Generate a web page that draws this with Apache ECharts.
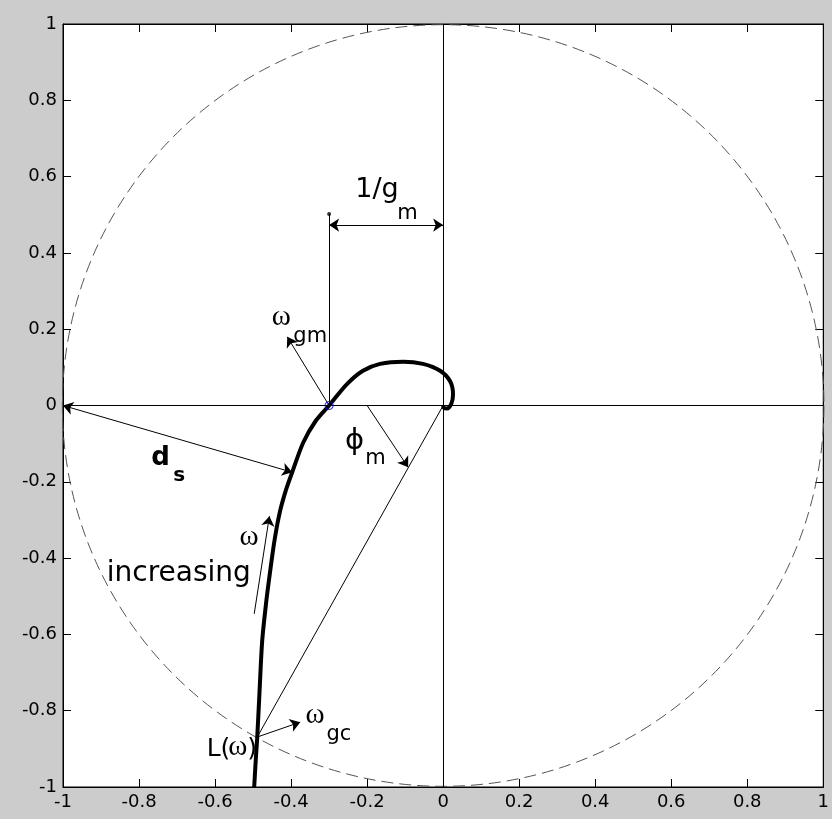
<!DOCTYPE html>
<html>
<head>
<meta charset="utf-8">
<script src="https://cdn.jsdelivr.net/npm/echarts@6/dist/echarts.min.js"></script>
<style>
html,body{margin:0;padding:0;background:#cccccc;}
#chart{width:832px;height:819px;}
</style>
</head>
<body>
<div id="chart"></div>
<script>
// ---- data ----
const xTicks = [-1, -0.8, -0.6, -0.4, -0.2, 0, 0.2, 0.4, 0.6, 0.8, 1];
const yTicks = [-1, -0.8, -0.6, -0.4, -0.2, 0, 0.2, 0.4, 0.6, 0.8, 1];

// Nyquist curve L(omega) (omega increasing upward)
const curveRe = [-0.497, -0.493, -0.489, -0.483, -0.476, -0.466, -0.455, -0.443, -0.429, -0.413, -0.397, -0.368, -0.335, -0.300, -0.253, -0.211, -0.166, -0.105, -0.053, -0.008, 0.018, 0.026, 0.022, 0.010, 0.002, 0.000];
const curveIm = [-1.000, -0.930, -0.869, -0.750, -0.617, -0.520, -0.434, -0.350, -0.277, -0.220, -0.175, -0.097, -0.040, 0.000, 0.056, 0.091, 0.109, 0.115, 0.109, 0.091, 0.064, 0.030, 0.006, -0.008, -0.006, 0.000];

// unit circle (center x, center y, radius)
const unitCircle = [[0, 0, 1]];

// key points
const gainCrossing = [-0.489, -0.869];   // omega_gc
const phaseCrossing = [-0.3, 0];          // omega_gm (-1/g_m)
const markerTop = [-0.3, 0.502];

// plain lines
const plainLines = [
  [[-1, 0], [1, 0]],
  [[0, -1], [0, 1]],
  [[0, 0], gainCrossing],
  [phaseCrossing, markerTop]
];
// double headed arrows
const doubleArrows = [
  [[-0.3, 0.473], [0, 0.473]],
  [[-1, 0], [-0.397, -0.175]]
];
// single headed arrows
const singleArrows = [
  [phaseCrossing, [-0.41, 0.18]],
  [[-0.2, 0], [-0.092, -0.162]],
  [[-0.497, -0.546], [-0.457, -0.29]],
  [gainCrossing, [-0.376, -0.83]]
];

// annotations (text, anchor in data units)
const annotations = [
  {t: '1/g', x: -0.231, y: 0.565, s: 27},
  {t: 'm', x: -0.121, y: 0.503, s: 21},
  {t: 'ω', x: -0.451, y: 0.232, s: 29, g: true},
  {t: 'gm', x: -0.394, y: 0.180, s: 21},
  {t: 'd', x: -0.768, y: -0.138, s: 26, b: true},
  {t: 's', x: -0.710, y: -0.183, s: 20, b: true},
  {t: 'ϕ', x: -0.258, y: -0.093, s: 29},
  {t: 'm', x: -0.205, y: -0.140, s: 21},
  {t: 'ω', x: -0.536, y: -0.347, s: 29, g: true},
  {t: 'increasing', x: -0.885, y: -0.442, s: 28},
  {t: 'ω', x: -0.362, y: -0.811, s: 29, g: true},
  {t: 'gc', x: -0.307, y: -0.862, s: 21},
  {t: 'L(', x: -0.622, y: -0.903, s: 25},
  {t: 'ω', x: -0.565, y: -0.897, s: 29, g: true},
  {t: ')', x: -0.515, y: -0.903, s: 25}
];

// ---- chart ----
const chart = echarts.init(document.getElementById('chart'));
const FONT = '"DejaVu Sans", Verdana, sans-serif';
const GFONT = '"Liberation Serif", "DejaVu Serif", serif';
const fmt = v => String(Math.round(v * 10) / 10);

function axisCommon(show, margin) {
  return {
    min: -1, max: 1, interval: 0.2,
    axisLine: {show: true, onZero: false, lineStyle: {color: '#000', width: 1}},
    axisTick: {show: true, inside: true, length: 8, lineStyle: {color: '#000'}},
    splitLine: {show: false},
    axisLabel: {show: show, color: '#000', fontSize: 18, fontFamily: FONT, margin: margin || 6, formatter: fmt}
  };
}

const curveData = curveRe.map((x, i) => [x, curveIm[i]]);

const option = {
  backgroundColor: '#cccccc',
  animation: false,
  grid: {left: 63, right: 8, top: 24, bottom: 32, show: true, backgroundColor: '#ffffff', borderColor: '#000', borderWidth: 1},
  xAxis: [
    Object.assign({type: 'value', position: 'bottom'}, axisCommon(true, 6)),
    Object.assign({type: 'value', position: 'top'}, axisCommon(false))
  ],
  yAxis: [
    Object.assign({type: 'value', position: 'left'}, axisCommon(true, 6)),
    Object.assign({type: 'value', position: 'right'}, axisCommon(false))
  ],
  series: [
    {
      type: 'custom', name: 'unit circle', coordinateSystem: 'cartesian2d',
      data: unitCircle, silent: true, z: 1, clip: false,
      renderItem: function (params, api) {
        const c = api.coord([api.value(0), api.value(1)]);
        const sz = api.size([api.value(2), api.value(2)]);
        return {
          type: 'circle',
          shape: {cx: c[0], cy: c[1], r: (sz[0] + sz[1]) / 2},
          style: {fill: 'none', stroke: '#555', lineWidth: 1, lineDash: [12, 6]}
        };
      }
    },
    {
      type: 'lines', coordinateSystem: 'cartesian2d', z: 2,
      data: plainLines.map(c => ({coords: c})),
      symbol: ['none', 'none'],
      lineStyle: {color: '#000', width: 1, opacity: 1}
    },
    {
      type: 'lines', coordinateSystem: 'cartesian2d', z: 3,
      data: doubleArrows.map(c => ({coords: c})),
      symbol: ['arrow', 'arrow'], symbolSize: 10,
      lineStyle: {color: '#000', width: 1, opacity: 1}
    },
    {
      type: 'lines', coordinateSystem: 'cartesian2d', z: 3,
      data: singleArrows.map(c => ({coords: c})),
      symbol: ['none', 'arrow'], symbolSize: 10,
      lineStyle: {color: '#000', width: 1, opacity: 1}
    },
    {
      type: 'line', name: 'L', data: curveData, smooth: 0.3,
      showSymbol: false, symbol: 'none', z: 4,
      lineStyle: {color: '#000', width: 4}
    },
    {
      type: 'scatter', data: [phaseCrossing], symbol: 'circle', symbolSize: 8, z: 5,
      itemStyle: {color: 'rgba(0,0,0,0)', borderColor: '#0000ff', borderWidth: 1.2}
    },
    {
      type: 'scatter', data: [markerTop], symbol: 'circle', symbolSize: 4, z: 5,
      itemStyle: {color: '#000'}
    },
    {
      type: 'custom', coordinateSystem: 'cartesian2d', z: 6, clip: false, silent: true,
      data: annotations.map(a => [a.x, a.y]),
      renderItem: function (params, api) {
        const a = annotations[params.dataIndex];
        const p = api.coord([api.value(0), api.value(1)]);
        return {
          type: 'text', x: p[0], y: p[1],
          style: {
            text: a.t, fill: '#000', fontSize: a.s,
            fontFamily: a.g ? GFONT : FONT,
            fontWeight: a.b ? 'bold' : 'normal',
            align: 'left', verticalAlign: 'middle'
          }
        };
      }
    }
  ]
};
chart.setOption(option);
</script>
</body>
</html>
